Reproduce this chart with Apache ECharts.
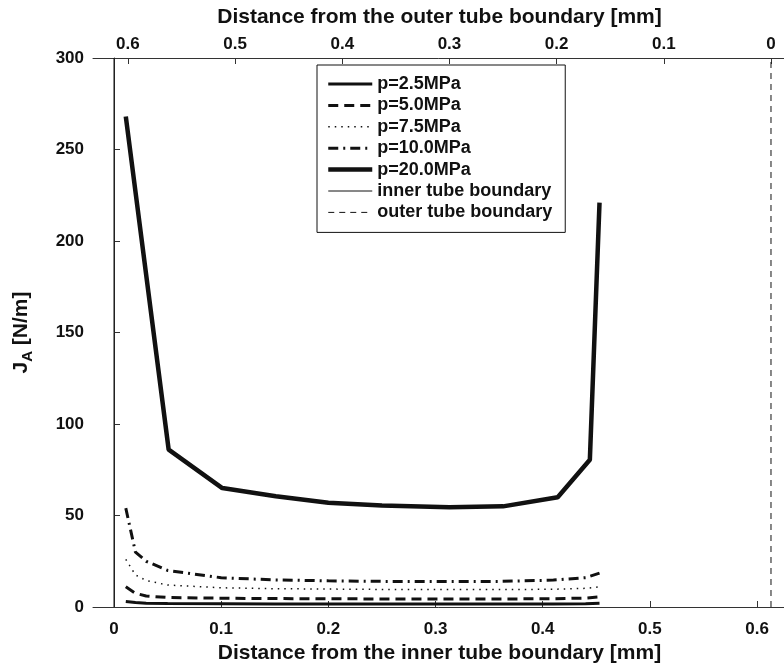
<!DOCTYPE html>
<html>
<head>
<meta charset="utf-8">
<script src="https://cdn.jsdelivr.net/npm/echarts@6/dist/echarts.min.js"></script>
<style>
  html, body { margin: 0; padding: 0; background: #fff; }
  #chart { width: 784px; height: 663px; }
</style>
</head>
<body>
<div id="chart"></div>
<script>
// data
var xFine = [0.011, 0.02, 0.03, 0.05, 0.1, 0.15, 0.2, 0.25, 0.31, 0.36, 0.41, 0.44, 0.453];
var xCoarse = [0.011, 0.051, 0.101, 0.151, 0.2, 0.25, 0.313, 0.363, 0.414, 0.444, 0.453];
var p25 = [3, 2.4, 2.1, 1.9, 1.8, 1.7, 1.7, 1.7, 1.7, 1.7, 1.7, 1.8, 2];
var p50 = [11, 7.5, 6, 5.2, 4.8, 4.6, 4.5, 4.4, 4.4, 4.4, 4.5, 4.9, 5.5];
var p75 = [26, 17.5, 14.5, 12, 10.5, 10, 9.8, 9.6, 9.5, 9.5, 9.7, 10.2, 11];
var p100 = [54, 30, 25, 20, 16, 14.8, 14.3, 14, 14, 14, 14.7, 16, 18.5];
var p200 = [268, 86, 65, 60.5, 57, 55.5, 54.5, 55, 60, 80.5, 221];
var innerX = 0;
var outerX = 0.613;
var xTicks = [0, 0.1, 0.2, 0.3, 0.4, 0.5, 0.6];
var legendNames = ['p=2.5MPa', 'p=5.0MPa', 'p=7.5MPa', 'p=10.0MPa', 'p=20.0MPa', 'inner tube boundary', 'outer tube boundary'];

function pairs(xs, ys) {
    var out = [];
    for (var i = 0; i < xs.length; i++) out.push([xs[i], ys[i]]);
    return out;
}

var chart = echarts.init(document.getElementById('chart'));
var font = '"Liberation Sans", Arial, sans-serif';
var lbl = { fontFamily: font, fontWeight: 'bold', fontSize: 17, color: '#111' };
var ttl = { fontFamily: font, fontWeight: 'bold', fontSize: 21, color: '#111' };
var axLine = { show: true, lineStyle: { color: '#333', width: 1 } };
var fmt = function (v) { return String(Number(v.toFixed(1))); };

function line(name, data, width, type) {
    return {
        name: name, type: 'line', data: data, symbol: 'none',
        lineStyle: { color: '#111', width: width, type: type },
        itemStyle: { color: '#111' },
        animation: false
    };
}

var option = {
    animation: false,
    grid: { left: 93, top: 58, width: 693, height: 549, outerBoundsMode: 'none', containLabel: false },
    legend: {
        orient: 'vertical', left: 317, top: 65,
        backgroundColor: '#fff',
        borderColor: '#111', borderWidth: 1,
        padding: [10, 13, 11, 9],
        itemWidth: 44, itemHeight: 14, itemGap: 3.4,
        itemStyle: { opacity: 0 },
        lineStyle: { width: 'inherit' },
        textStyle: { fontFamily: font, fontWeight: 'bold', fontSize: 18, color: '#111' },
        data: legendNames
    },
    xAxis: [{
        type: 'value', position: 'bottom',
        min: -0.0196, max: 0.627,
        name: 'Distance from the inner tube boundary [mm]',
        nameLocation: 'middle', nameGap: 35,
        nameTextStyle: ttl,
        axisLine: axLine,
        axisTick: { inside: true, length: 6, customValues: xTicks, lineStyle: { color: '#333' } },
        axisLabel: Object.assign({ customValues: xTicks, formatter: fmt, margin: 14 }, lbl),
        splitLine: { show: false }
    }, {
        type: 'value', position: 'top', inverse: true,
        min: outerX - 0.627, max: outerX + 0.0196,
        name: 'Distance from the outer tube boundary [mm]',
        nameLocation: 'middle', nameGap: 30,
        nameTextStyle: ttl,
        axisLine: axLine,
        axisTick: { inside: true, length: 6, customValues: xTicks, lineStyle: { color: '#333' } },
        axisLabel: Object.assign({ customValues: xTicks, formatter: fmt, margin: 5 }, lbl),
        splitLine: { show: false }
    }],
    yAxis: {
        type: 'value', min: 0, max: 300, interval: 50,
        name: '{j|J}{s|A}{j| [N/m]}',
        nameLocation: 'middle', nameGap: 58,
        nameTextStyle: {
            rich: {
                j: { fontFamily: font, fontWeight: 'bold', fontSize: 21, color: '#111' },
                s: { fontFamily: font, fontWeight: 'bold', fontSize: 15, color: '#111', padding: [12, 0, 0, 0] }
            }
        },
        axisLine: axLine,
        axisTick: { inside: true, length: 6, lineStyle: { color: '#333' } },
        axisLabel: Object.assign({ margin: 9 }, lbl),
        splitLine: { show: false }
    },
    series: [
        line(legendNames[0], pairs(xFine, p25), 3, 'solid'),
        line(legendNames[1], pairs(xFine, p50), 3, [10, 6]),
        line(legendNames[2], pairs(xFine, p75), 1.5, [1.5, 5]),
        line(legendNames[3], pairs(xFine, p100), 3, [10, 5, 2, 5]),
        line(legendNames[4], pairs(xCoarse, p200), 4.5, 'solid'),
        line(legendNames[5], [[innerX, 0], [innerX, 300]], 1, 'solid'),
        line(legendNames[6], [[outerX, 0], [outerX, 300]], 1, [6, 5])
    ]
};
chart.setOption(option);
</script>
</body>
</html>
